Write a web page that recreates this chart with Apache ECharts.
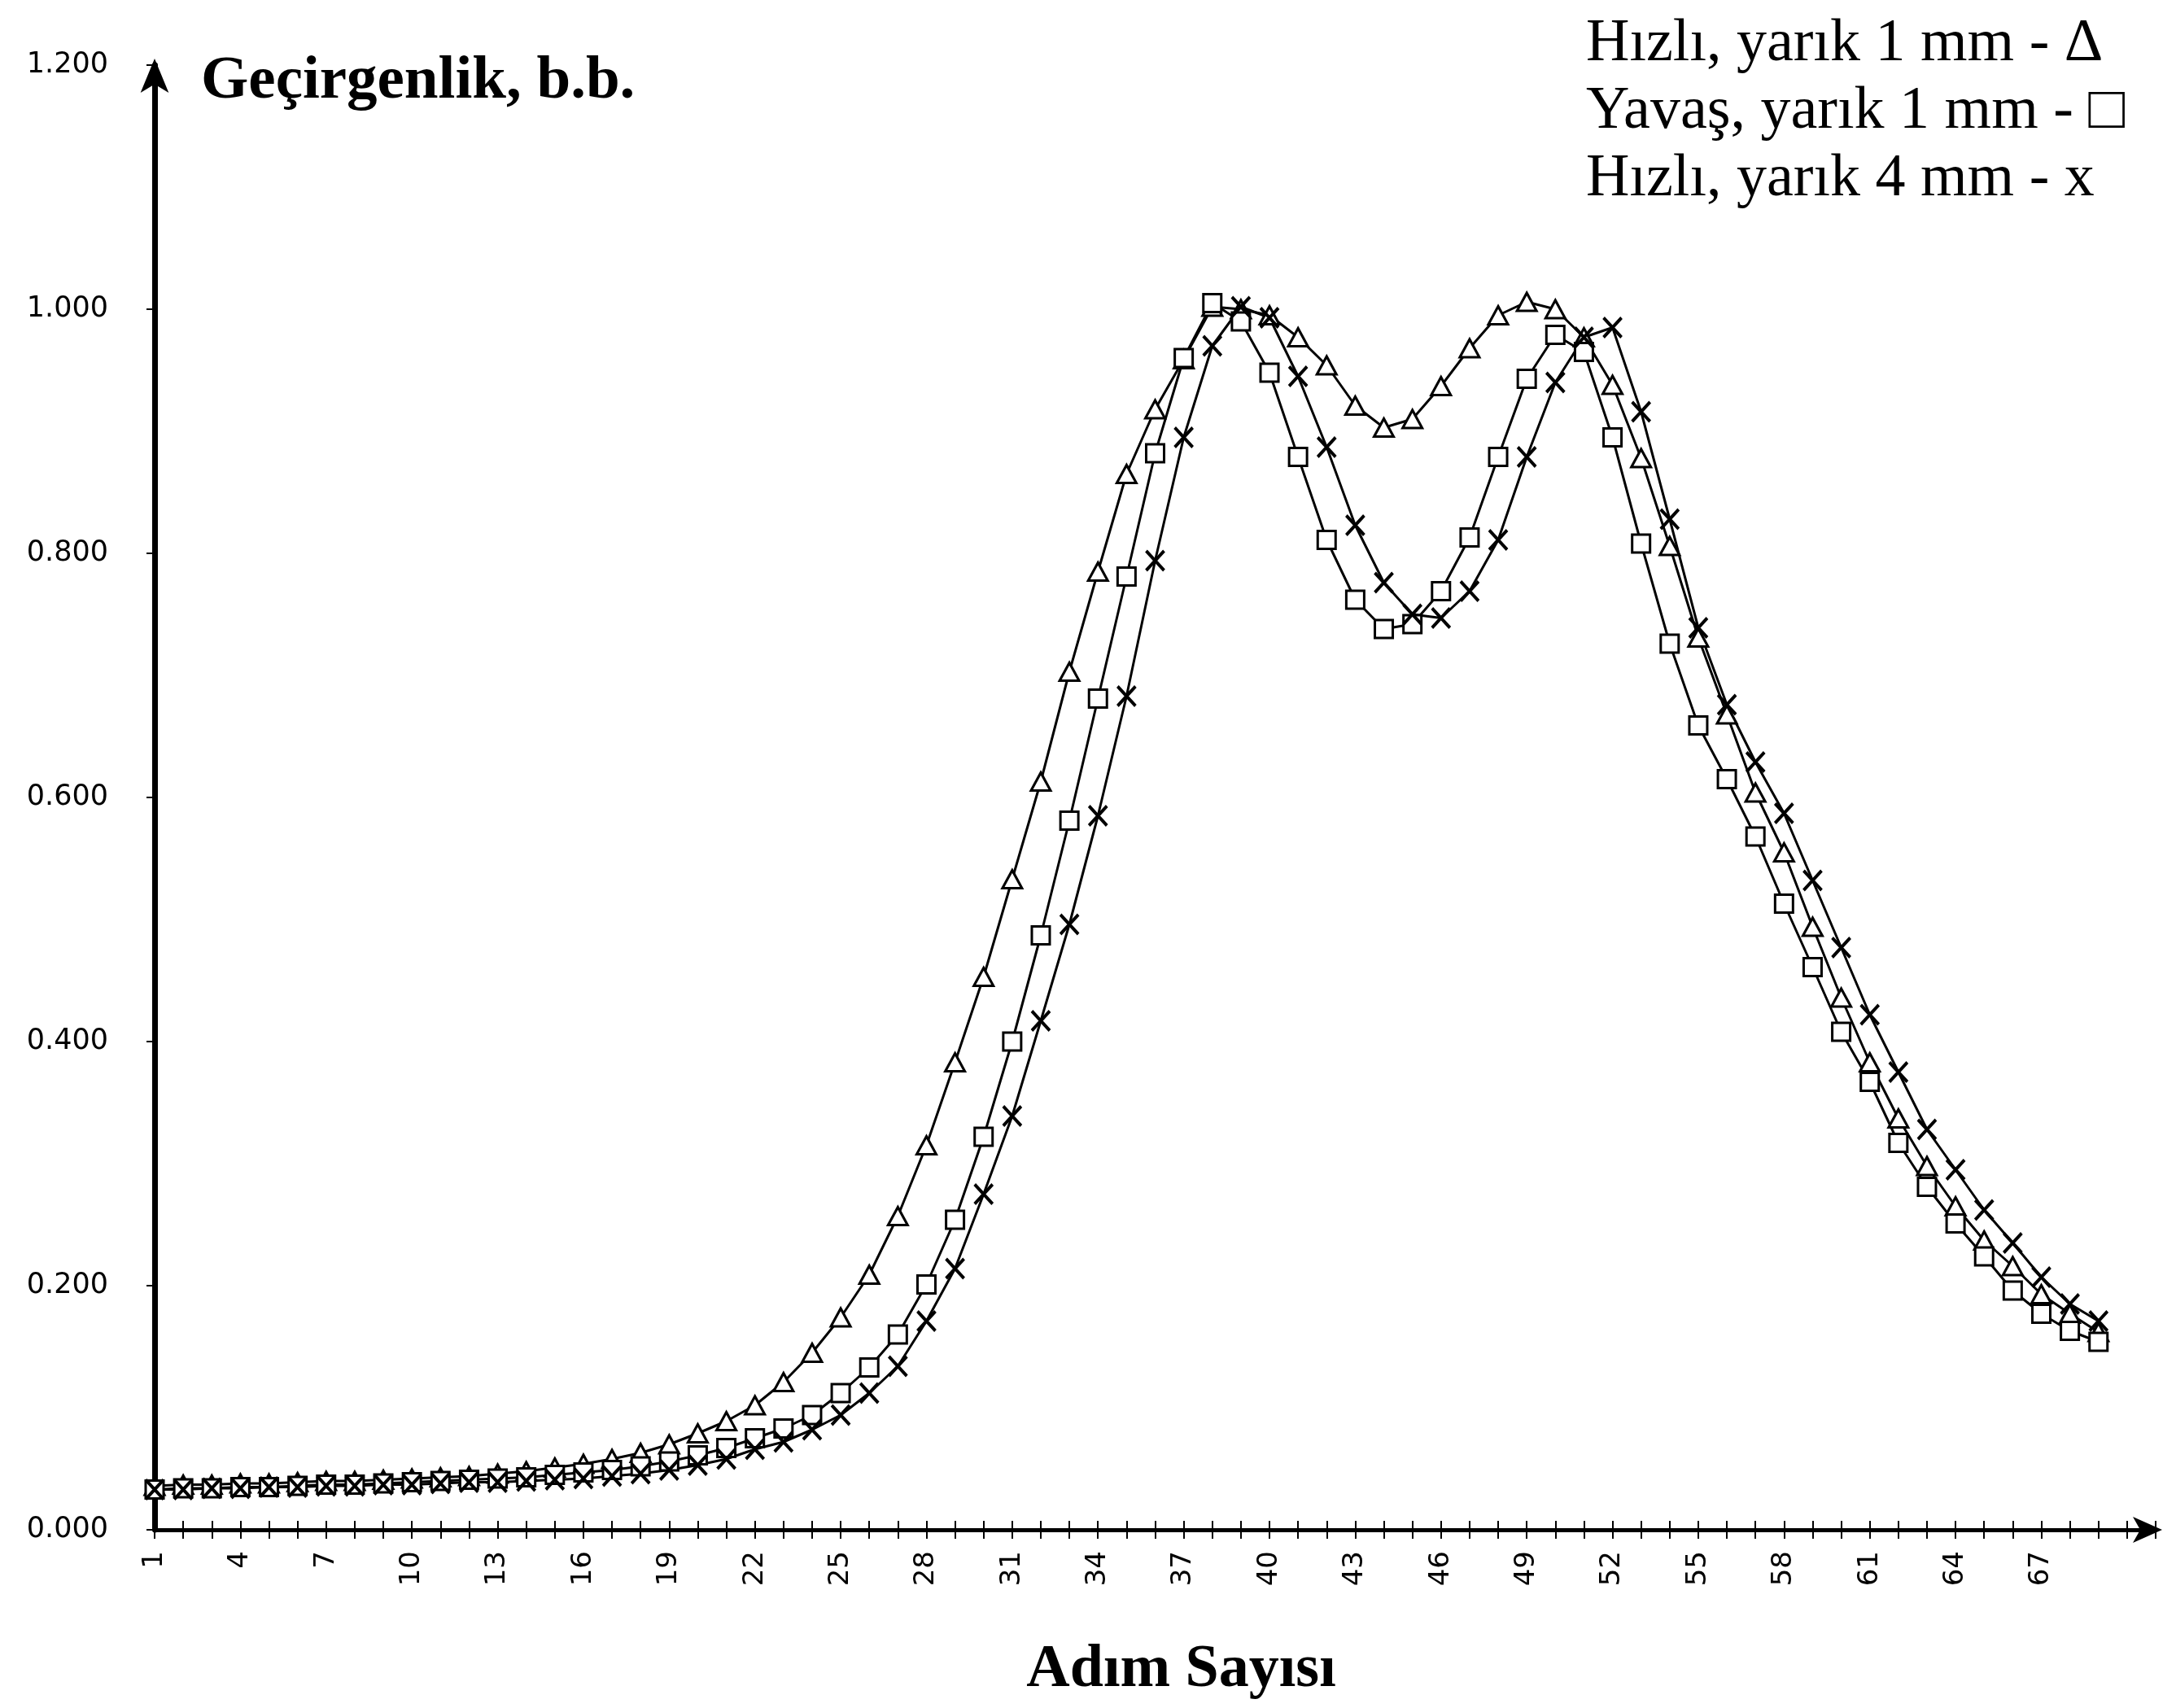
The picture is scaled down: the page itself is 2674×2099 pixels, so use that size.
<!DOCTYPE html>
<html>
<head>
<meta charset="utf-8">
<script src="https://cdn.jsdelivr.net/npm/echarts@6/dist/echarts.min.js"></script>
<style>
  html, body { margin: 0; padding: 0; background: #fff; }
  #chart { width: 2674px; height: 2099px; }
</style>
</head>
<body>
<div id="chart"></div>
<script>
// Category labels (Adım Sayısı); last two empty slots only extend the axis for its arrow
const categories = ['1','2','3','4','5','6','7','8','9','10','11','12','13','14','15','16','17','18','19','20',
  '21','22','23','24','25','26','27','28','29','30','31','32','33','34','35','36','37','38','39','40',
  '41','42','43','44','45','46','47','48','49','50','51','52','53','54','55','56','57','58','59','60',
  '61','62','63','64','65','66','67','68','69','',''];

// Hızlı, yarık 1 mm - Δ
const fast1mm = [0.036,0.037,0.037,0.038,0.038,0.039,0.040,0.040,0.041,0.042,
  0.043,0.044,0.046,0.048,0.051,0.054,0.058,0.063,0.070,0.079,
  0.089,0.102,0.121,0.145,0.174,0.209,0.257,0.315,0.383,0.453,
  0.533,0.613,0.703,0.785,0.865,0.918,0.959,1.002,1.000,0.995,
  0.977,0.954,0.921,0.903,0.910,0.937,0.968,0.995,1.006,1.000,
  0.977,0.938,0.878,0.806,0.731,0.668,0.604,0.555,0.494,0.436,
  0.383,0.337,0.298,0.265,0.237,0.216,0.193,0.177,0.162];

// Yavaş, yarık 1 mm - □
const slow1mm = [0.033,0.034,0.034,0.035,0.035,0.036,0.037,0.037,0.038,0.039,
  0.040,0.041,0.042,0.043,0.045,0.047,0.049,0.052,0.056,0.061,
  0.067,0.075,0.083,0.094,0.112,0.133,0.160,0.201,0.254,0.322,
  0.400,0.487,0.581,0.681,0.781,0.882,0.960,1.005,0.990,0.948,
  0.879,0.811,0.762,0.738,0.742,0.769,0.813,0.879,0.943,0.979,
  0.965,0.895,0.808,0.726,0.659,0.615,0.568,0.513,0.461,0.408,
  0.367,0.317,0.281,0.251,0.224,0.196,0.177,0.163,0.154];

// Hızlı, yarık 4 mm - x
const fast4mm = [0.033,0.033,0.034,0.034,0.035,0.035,0.036,0.036,0.037,0.037,
  0.038,0.039,0.039,0.040,0.041,0.042,0.044,0.046,0.049,0.053,
  0.058,0.066,0.072,0.082,0.094,0.112,0.134,0.171,0.214,0.275,
  0.339,0.417,0.496,0.585,0.683,0.794,0.895,0.970,1.002,0.993,
  0.945,0.887,0.823,0.776,0.750,0.747,0.769,0.811,0.879,0.940,
  0.977,0.985,0.916,0.828,0.739,0.676,0.629,0.587,0.532,0.477,
  0.422,0.375,0.328,0.295,0.262,0.235,0.207,0.185,0.171];

const yTicks = { min: 0, max: 1.2, interval: 0.2 };
const legendLines = ['Hızlı, yarık 1 mm - Δ', 'Yavaş, yarık 1 mm - □', 'Hızlı, yarık 4 mm - x'];
const yTitle = 'Geçirgenlik, b.b.';
const xTitle = 'Adım Sayısı';

const chart = echarts.init(document.getElementById('chart'), null, { renderer: 'canvas' });

const serif = '"Liberation Serif", "Times New Roman", serif';
const sans = '"DejaVu Sans", "Liberation Sans", sans-serif';

const common = {
  type: 'line',
  xAxisIndex: 0,
  yAxisIndex: 0,
  showAllSymbol: true,
  lineStyle: { color: '#000', width: 3 },
  emphasis: { disabled: true },
  z: 3
};

const option = {
  animation: false,
  backgroundColor: '#fff',
  grid: { left: 190, right: 25, top: 80, bottom: 219, containLabel: false },
  xAxis: [{
    type: 'category',
    data: categories,
    boundaryGap: false,
    position: 'bottom',
    axisLine: { show: true, lineStyle: { color: '#000', width: 5 }, symbol: ['none', 'arrow'], symbolSize: [24, 36], symbolOffset: [0, 8] },
    axisTick: { show: true, interval: 0, inside: true, length: 11, lineStyle: { color: '#000', width: 2 } },
    axisLabel: {
      interval: 2, rotate: 90, margin: 26,
      fontFamily: sans, fontSize: 34, color: '#000'
    },
    splitLine: { show: false },
    name: xTitle,
    nameLocation: 'middle',
    nameGap: 136,
    nameTextStyle: { fontFamily: serif, fontWeight: 'bold', fontSize: 74, color: '#000', padding: [0, 0, 0, 64] }
  }, {
    type: 'category',
    data: categories,
    boundaryGap: false,
    position: 'bottom',
    offset: 0,
    axisLine: { show: false },
    axisTick: { show: true, interval: 0, inside: false, length: 11, lineStyle: { color: '#000', width: 2 } },
    axisLabel: { show: false },
    splitLine: { show: false }
  }],
  yAxis: {
    type: 'value',
    min: yTicks.min, max: yTicks.max, interval: yTicks.interval,
    axisLine: { show: true, onZero: false, lineStyle: { color: '#000', width: 7 }, symbol: ['none', 'arrow'], symbolSize: [26, 42], symbolOffset: [0, 8] },
    axisTick: { show: true, length: 10, lineStyle: { color: '#000', width: 2 } },
    axisLabel: {
      margin: 57, color: '#000',
      fontFamily: sans, fontSize: 35,
      formatter: function (v) { return v.toFixed(3); }
    },
    splitLine: { show: false }
  },
  graphic: [
    { type: 'text', left: 247, top: 63, style: { text: yTitle, font: 'bold 75px ' + serif, fill: '#000' } },
    { type: 'text', left: 1949, top: 18, style: { text: legendLines[0], font: '74px ' + serif, fill: '#000' } },
    { type: 'text', left: 1949, top: 101, style: { text: legendLines[1], font: '74px ' + serif, fill: '#000' } },
    { type: 'text', left: 1949, top: 184, style: { text: legendLines[2], font: '74px ' + serif, fill: '#000' } }
  ],
  series: [
    Object.assign({}, common, {
      name: legendLines[0], data: fast1mm,
      symbol: 'triangle', symbolSize: [24, 22],
      itemStyle: { color: '#fff', borderColor: '#000', borderWidth: 3 }
    }),
    Object.assign({}, common, {
      name: legendLines[1], data: slow1mm,
      symbol: 'rect', symbolSize: [22, 22],
      itemStyle: { color: '#fff', borderColor: '#000', borderWidth: 3 }
    }),
    Object.assign({}, common, {
      name: legendLines[2], data: fast4mm,
      symbol: 'path://M0,0L10,10M10,0L0,10', symbolSize: [22, 24], symbolKeepAspect: false,
      itemStyle: { color: 'none', borderColor: '#000', borderWidth: 4 }
    })
  ]
};

chart.setOption(option);
</script>
</body>
</html>
